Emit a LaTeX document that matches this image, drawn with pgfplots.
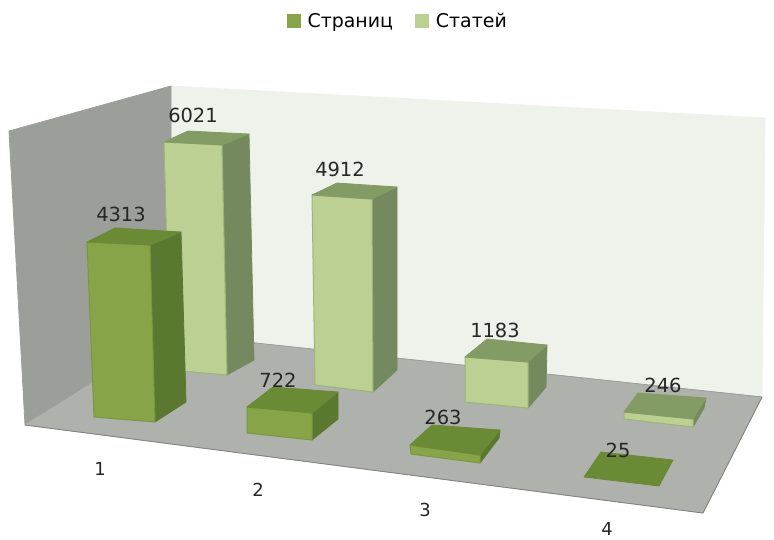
\documentclass[border=0pt]{standalone}
\usepackage{fontspec}
\setmainfont{DejaVu Sans}
\usepackage{pgfplots}
\pgfplotsset{compat=1.18}
\definecolor{dF}{HTML}{87A548}
\definecolor{dT}{HTML}{6A8A35}
\definecolor{dS}{HTML}{5A7830}
\definecolor{lF}{HTML}{BBD092}
\definecolor{lE}{HTML}{9DB578}
\definecolor{dE}{HTML}{79983E}
\definecolor{lT}{HTML}{839B64}
\definecolor{lS}{HTML}{748A5E}
\definecolor{wallB}{HTML}{EFF2EA}
\definecolor{wallL}{HTML}{9B9E99}
\definecolor{floorC}{HTML}{AEB1AC}
\newcommand\poly[2]{\addplot[forget plot,fill=#1,draw=#1,line width=0.8pt,line join=round] coordinates {#2} -- cycle;}
\newcommand\polyE[3]{\addplot[forget plot,fill=#1,draw=#2,line width=1pt,line join=round] coordinates {#3} -- cycle;}
\begin{document}
\begin{tikzpicture}
\useasboundingbox (0,0) rectangle (774bp,540bp);
\begin{axis}[
  at={(0,0)},anchor=south west,
  scale only axis, width=774bp, height=540bp,
  xmin=0, xmax=774, ymin=0, ymax=540, y dir=reverse,
  axis lines=none, clip=false,
  legend columns=2,
  legend style={at={(axis description cs:0.370,0.961)},anchor=west,draw=none,fill=none,inner sep=0pt,
    font=\fontsize{19}{20}\selectfont,/tikz/every even column/.append style={column sep=20bp}},
  legend cell align=left,
]
\addlegendimage{area legend,legend image code/.code={\fill[dF,draw=none] (0bp,-7bp) rectangle (14bp,7bp);\path[draw=none,fill=none] (0bp,0bp) rectangle (19bp,0.1bp);}}
\addlegendentry{Страниц}
\addlegendimage{area legend,legend image code/.code={\fill[lF,draw=none] (0bp,-7bp) rectangle (14bp,7bp);\path[draw=none,fill=none] (0bp,0bp) rectangle (19bp,0.1bp);}}
\addlegendentry{Статей}
% walls and floor
\poly{wallB}{(171,86)(765,118)(762,397)(171,334)}
\poly{wallL}{(9,131)(171,86)(171,334)(25,425)}
\poly{floorC}{(25,425)(171,334)(762,397)(703,513)}
\addplot[forget plot,color=black!50,line width=0.8pt] coordinates {(25,425)(703,513)(762,397)};
\addplot[forget plot,color=black!40,line width=0.6pt] coordinates {(171,334)(762,397)};
% Статей
\poly{lS}{(222,145)(249,134)(254,360)(227,375)}
\polyE{lF}{lE}{(164,142)(222,145)(227,375)(170,370)}
\poly{lT}{(164,142)(188,131)(249,134)(222,145)}
\poly{lS}{(372,199)(397,187)(397,370)(373,392)}
\polyE{lF}{lE}{(312,195)(372,199)(373,392)(315,385)}
\poly{lT}{(312,195)(337,183)(397,187)(372,199)}
\poly{lS}{(528,362)(547,345)(546,387)(528,408)}
\polyE{lF}{lE}{(465,357)(528,362)(528,408)(465,402)}
\poly{lT}{(465,357)(487,339)(547,345)(528,362)}
\poly{lS}{(693,419)(706,398)(704,408)(693,427)}
\polyE{lF}{lE}{(624,412)(693,419)(693,427)(624,419)}
\poly{lT}{(624,412)(638,393)(706,398)(693,419)}
% Страниц
\poly{dS}{(150,245)(181,232)(186,402)(155,422)}
\polyE{dF}{dE}{(87,242)(150,245)(155,422)(94,417)}
\poly{dT}{(87,242)(115,228)(181,232)(150,245)}
\poly{dS}{(312,413)(338,392)(338,419)(312,440)}
\polyE{dF}{dE}{(247,407)(312,413)(312,440)(247,433)}
\poly{dT}{(247,407)(273,387)(338,392)(312,413)}
\poly{dS}{(480,455)(500,430)(499,438)(480,463)}
\polyE{dF}{dE}{(410,445)(480,455)(480,463)(411,454)}
\poly{dT}{(410,445)(432,425)(500,430)(480,455)}
\poly{dT}{(584,477)(601,452)(673,460)(659,486)}
% value labels
\addplot[forget plot,draw=none,mark=none,nodes near coords,point meta=explicit symbolic,
  every node near coord/.append style={anchor=center,font=\fontsize{19.5}{20}\selectfont,inner sep=0pt,text=black!85}]
  table[meta=v] {
  x y v
  121 214 4313
  193 115 6021
  340 169 4912
  278 380 722
  495 330 1183
  443 417 263
  663 385 246
  618 450 25
};
\addplot[forget plot,draw=none,mark=none,nodes near coords,point meta=explicit symbolic,
  every node near coord/.append style={anchor=center,font=\fontsize{18}{18}\selectfont,inner sep=0pt,text=black!85}]
  table[meta=v] {
  x y v
  100 469 1
  258 490 2
  425 510 3
  607 529 4
};
\end{axis}
\end{tikzpicture}
\end{document}
